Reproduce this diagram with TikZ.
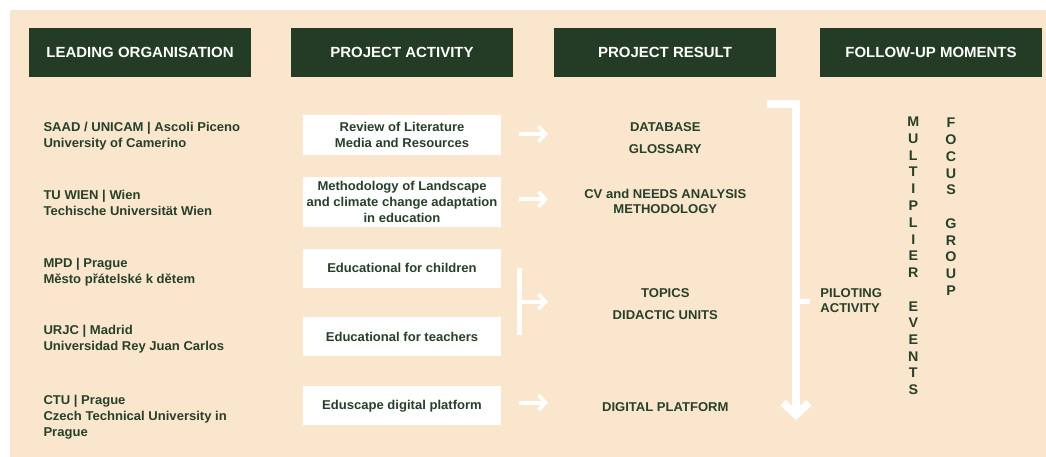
\documentclass[tikz,border=0pt]{standalone}
\usepackage{fontspec}
\setmainfont{Liberation Sans}[FakeStretch=1.02]
\usetikzlibrary{arrows.meta}
\definecolor{beige}{HTML}{FAE5CD}
\definecolor{dkgreen}{HTML}{243B25}
\definecolor{txtgreen}{HTML}{27402A}
\begin{document}
\begin{tikzpicture}[x=1pt,y=-1pt,
  hdr/.style={fill=dkgreen, text=white, minimum width=222pt, minimum height=49pt, inner sep=0pt, font=\fontsize{14.7}{16}\selectfont\bfseries},
  org/.style={anchor=west, align=left, text=txtgreen, inner sep=0pt, font=\fontsize{12.8}{16}\selectfont\bfseries},
  actbox/.style={fill=white, text=txtgreen, minimum width=198pt, inner sep=0pt, align=center, font=\fontsize{12.8}{16}\selectfont\bfseries},
  res/.style={text=txtgreen, align=center, inner sep=0pt, font=\fontsize{12.8}{15.5}\selectfont\bfseries},
  vert/.style={text=txtgreen, align=center, inner sep=0pt, font=\fontsize{14}{16.75}\selectfont\bfseries},
  arr/.style={white, line width=3.8pt, -{Straight Barb[length=7pt,width=15pt]}},
  bigarr/.style={white, line width=7.7pt, line join=miter, -{Straight Barb[length=12pt,width=26pt]}},
  wline/.style={white, line width=5pt},
]
\useasboundingbox (0,0) rectangle (1046,457);
\fill[beige] (9.5,10) rectangle (1046,457);

% headers
\node[hdr] (h1) at (140,52.4) {LEADING ORGANISATION};
\node[hdr] (h2) at (402,52.4) {PROJECT ACTIVITY};
\node[hdr] (h3) at (665,52.4) {PROJECT RESULT};
\node[hdr] (h4) at (931,52.4) {FOLLOW-UP MOMENTS};

% organisations
\node[org] (o1) at (43.3,136.3) {SAAD / UNICAM | Ascoli Piceno\\University of Camerino};
\node[org] (o2) at (43.3,202.8) {TU WIEN | Wien\\Techische Universität Wien};
\node[org] (o3) at (43.3,272) {MPD | Prague\\Město přátelské k dětem};
\node[org] (o4) at (43.3,338.8) {URJC | Madrid\\Universidad Rey Juan Carlos};
\node[org] (o5) at (43.3,417.3) {CTU | Prague\\Czech Technical University in\\Prague};

% activities
\node[actbox, minimum height=40pt] (a1) at (402,135) {Review of Literature\\Media and Resources};
\node[actbox, minimum height=50pt] (a2) at (402,202) {Methodology of Landscape\\and climate change adaptation\\in education};
\node[actbox, minimum height=39pt] (a3) at (402,268) {Educational for children};
\node[actbox, minimum height=39pt] (a4) at (402,336.8) {Educational for teachers};
\node[actbox, minimum height=39pt] (a5) at (402,405.8) {Eduscape digital platform};

% results
\node[res] (r1) at (665.3,126.9) {DATABASE};
\node[res] (r2) at (665.3,149.4) {GLOSSARY};
\node[res] (r3) at (665.3,201.5) {CV and NEEDS ANALYSIS\\METHODOLOGY};
\node[res] (r4) at (665.3,292.7) {TOPICS};
\node[res] (r5) at (665.3,315.5) {DIDACTIC UNITS};
\node[res] (r6) at (665.3,406.8) {DIGITAL PLATFORM};

% follow-up
\node[res, anchor=west, align=left] (pil) at (820.2,300.7) {PILOTING\\ACTIVITY};
\node[vert] (mult) at (913.3,256) {M\\U\\L\\T\\I\\P\\L\\I\\E\\R\\[16.75pt]E\\V\\E\\N\\T\\S};
\node[vert] (foc) at (951,206.7) {F\\O\\C\\U\\S\\[16.75pt]G\\R\\O\\U\\P};

% small arrows
\coordinate (s1) at (519,134);   \coordinate (e1) at (548,134);
\coordinate (s2) at (519,199.3); \coordinate (e2) at (548,199.3);
\coordinate (s3) at (519,301.7); \coordinate (e3) at (548,301.7);
\coordinate (s4) at (519,402.7); \coordinate (e4) at (548,402.7);
\coordinate (bk1) at (519,267.7); \coordinate (bk2) at (519,335);
\draw[arr] (s1) -- (e1);
\draw[arr] (s2) -- (e2);
\draw[wline] (bk1) -- (bk2);
\draw[arr] (s3) -- (e3);
\draw[arr] (s4) -- (e4);

% big bracket arrow
\coordinate (bt) at (767,103.7);
\coordinate (bc) at (796,103.7);
\coordinate (bb) at (796,420);
\coordinate (tk1) at (796,301.7);
\coordinate (tk2) at (810,301.7);
\draw[bigarr] (bt) -- (bc) -- (bb);
\draw[wline] (tk1) -- (tk2);
\end{tikzpicture}
\end{document}
